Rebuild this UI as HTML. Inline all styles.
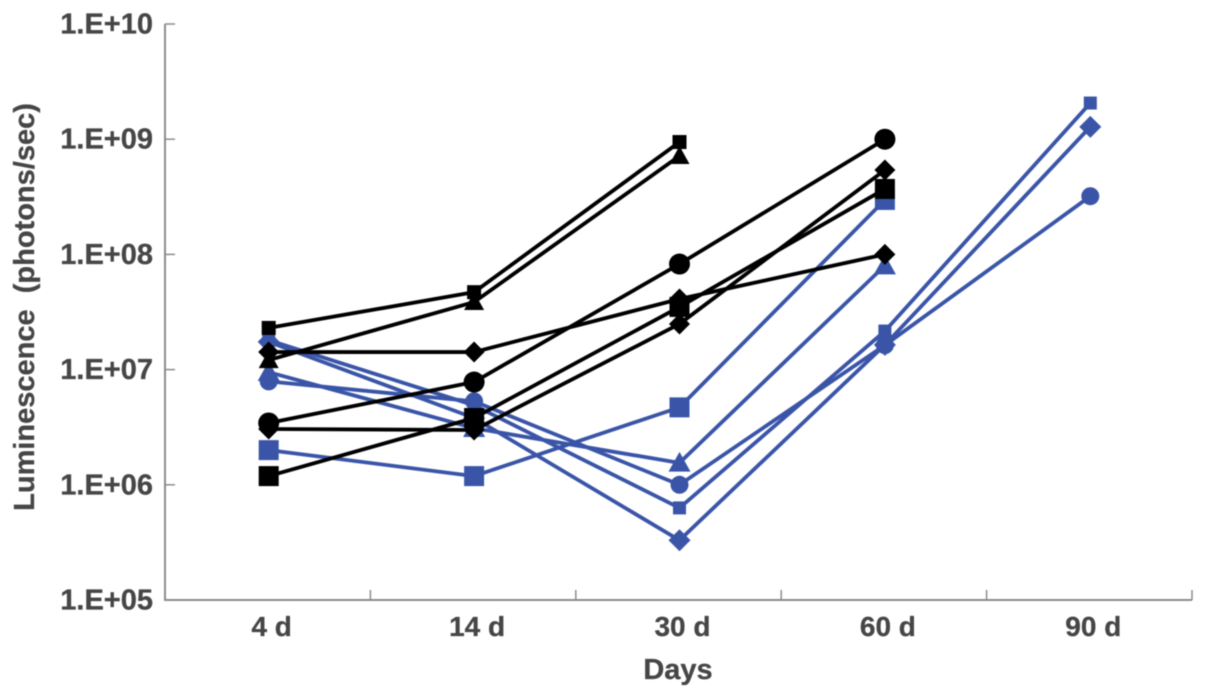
<!DOCTYPE html>
<html>
<head>
<meta charset="utf-8">
<title>Luminescence chart</title>
<style>
html,body{margin:0;padding:0;background:#fff;width:1205px;height:698px;overflow:hidden}
svg{display:block}
text{font-family:"Liberation Sans",Arial,sans-serif;font-weight:bold;fill:#464646}
</style>
</head>
<body>
<svg id="chart" width="1205" height="698" viewBox="0 0 1205 698" xmlns="http://www.w3.org/2000/svg">
<g id="root" style="filter:blur(0.5px)"></g>
</svg>
<script>
const categories = ["4 d", "14 d", "30 d", "60 d", "90 d"];
const yTickExponents = [5, 6, 7, 8, 9, 10];
const yTickLabels = ["1.E+05", "1.E+06", "1.E+07", "1.E+08", "1.E+09", "1.E+10"];

const blueSquareLarge = [2.0e6, 1.19e6, 4.7e6, 2.97e8, null];
const blueTriangle = [9.5e6, 3.1e6, 1.55e6, 8.0e7, null];
const blueCircle = [7.9e6, 5.3e6, 1.0e6, 1.63e7, 3.2e8];
const blueSquareSmall = [1.8e7, 4.9e6, 6.3e5, 2.16e7, 2.06e9];
const blueDiamond = [1.74e7, 3.8e6, 3.3e5, 1.64e7, 1.28e9];

const blackSquareSmall = [2.3e7, 4.7e7, 9.45e8, null, null];
const blackTriangle = [1.21e7, 3.86e7, 7.15e8, null, null];
const blackDiamondFlat = [1.42e7, 1.42e7, 4.1e7, 1.0e8, null];
const blackCircle = [3.44e6, 7.8e6, 8.25e7, 1.0e9, null];
const blackDiamond = [3.05e6, 2.99e6, 2.49e7, 5.4e8, null];
const blackSquareLarge = [1.19e6, 3.8e6, 3.5e7, 3.7e8, null];

const BLUE = "#3a55a8", BLACK = "#000";
const seriesList = [
  {name:"blue-square-large", values:blueSquareLarge, color:BLUE, shape:"square", size:20},
  {name:"blue-triangle", values:blueTriangle, color:BLUE, shape:"triangle", size:22},
  {name:"blue-circle", values:blueCircle, color:BLUE, shape:"circle", size:18},
  {name:"blue-square-small", values:blueSquareSmall, color:BLUE, shape:"square", size:13},
  {name:"blue-diamond", values:blueDiamond, color:BLUE, shape:"diamond", size:22},
  {name:"black-square-small", values:blackSquareSmall, color:BLACK, shape:"square", size:14},
  {name:"black-triangle", values:blackTriangle, color:BLACK, shape:"triangle", size:20},
  {name:"black-diamond-flat", values:blackDiamondFlat, color:BLACK, shape:"diamond", size:21},
  {name:"black-circle", values:blackCircle, color:BLACK, shape:"circle", size:21},
  {name:"black-diamond", values:blackDiamond, color:BLACK, shape:"diamond", size:21},
  {name:"black-square-large", values:blackSquareLarge, color:BLACK, shape:"square", size:20}
];

const NS = "http://www.w3.org/2000/svg";
const root = document.getElementById("root");
const plot = {left:165, right:1192, top:24, bottom:600};
const AXIS = "#8c8c8c";

function yScale(v){ return plot.bottom - (Math.log10(v) - 5) / 5 * (plot.bottom - plot.top); }
function xScale(i){ return plot.left + 1 + (i + 0.5) * (plot.right - plot.left) / categories.length; }
function make(tag, attrs, parent){
  const el = document.createElementNS(NS, tag);
  for (const k in attrs) el.setAttribute(k, attrs[k]);
  (parent || root).appendChild(el);
  return el;
}

/* axes */
const axisGroup = make("g", {});


const yAxis = make("line", {x1:plot.left, x2:plot.left, y1:plot.top, y2:plot.bottom, stroke:AXIS, "stroke-width":2}, axisGroup);


const xAxis = make("line", {x1:plot.left-1, x2:plot.right, y1:plot.bottom, y2:plot.bottom, stroke:AXIS, "stroke-width":2}, axisGroup);



yTickExponents.forEach(function(e, i){
  const y = yScale(Math.pow(10, e));
  if (e > 5) {
    const t = make("line", {x1:plot.left, x2:plot.left+10, y1:y, y2:y, stroke:AXIS, "stroke-width":1.5}, axisGroup);
    
    
  }
  const lab = make("text", {x:153, y:y+9.5, "text-anchor":"end", "font-size":29, "stroke":"#464646", "stroke-width":0.3}, axisGroup);
  lab.textContent = yTickLabels[i];
  
  
});

categories.forEach(function(c, i){
  const tx = plot.left + (i + 1) * (plot.right - plot.left) / categories.length;
  const t = make("line", {x1:tx, x2:tx, y1:plot.bottom-10, y2:plot.bottom, stroke:AXIS, "stroke-width":1.5}, axisGroup);
  
  
  const lab = make("text", {x:xScale(i)+3, y:636, "text-anchor":"middle", "font-size":28, "stroke":"#464646", "stroke-width":0.3}, axisGroup);
  lab.textContent = c;
  
  
});

const xTitle = make("text", {x:678, y:679, "text-anchor":"middle", "font-size":29, "stroke":"#464646", "stroke-width":0.3});
xTitle.textContent = "Days";



const yTitle = make("text", {x:0, y:0, transform:"translate(34,307) rotate(-90)", "text-anchor":"middle", "font-size":29, "stroke":"#464646", "stroke-width":0.3, style:"white-space:pre"});
yTitle.textContent = "Luminescence  (photons/sec)";



/* series */
function drawMarker(g, shape, x, y, s, color){
  const h = s / 2;
  let m;
  if (shape === "square") {
    m = make("rect", {x:x-h, y:y-h, width:s, height:s, fill:color}, g);
  } else if (shape === "circle") {
    m = make("circle", {cx:x, cy:y, r:h, fill:color}, g);
  } else if (shape === "diamond") {
    m = make("polygon", {points:[x,y-h, x+h,y, x,y+h, x-h,y].join(" "), fill:color}, g);
  } else {
    m = make("polygon", {points:[x,y-h, x+h,y+h*0.8, x-h,y+h*0.8].join(" "), fill:color}, g);
  }
  
  
}

seriesList.forEach(function(s){
  const g = make("g", {});
  
  
  const pts = [];
  s.values.forEach(function(v, i){ if (v !== null) pts.push([xScale(i), yScale(v)]); });
  const line = make("polyline", {points:pts.map(function(p){return p.join(",");}).join(" "), fill:"none", stroke:s.color, "stroke-width":3.8, "stroke-linejoin":"round"}, g);
  
  
  pts.forEach(function(p){ drawMarker(g, s.shape, p[0], p[1], s.size, s.color); });
});
</script>
</body>
</html>
